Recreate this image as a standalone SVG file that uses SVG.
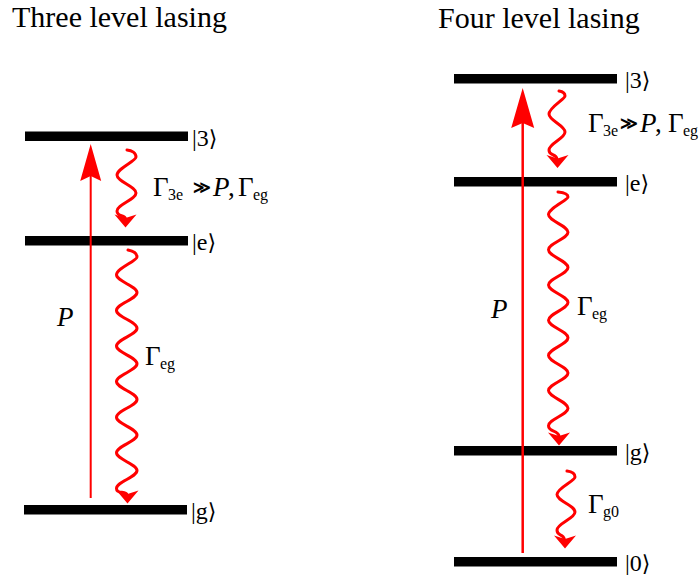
<svg xmlns="http://www.w3.org/2000/svg" xmlns:xlink="http://www.w3.org/1999/xlink" width="699" height="575" viewBox="0 0 699 575">
<style>
text { font-family: "Liberation Serif", "Times New Roman", serif; fill: #000; }
.title { font-size: 30px; }
.ket { font-size: 24px; font-family: "Liberation Serif", serif; }
.ang { font-family: "DejaVu Serif", serif; font-size: 22px; }
.big { font-size: 27px; }
.sub { font-size: 16px; }
.rel { font-size: 17px; font-weight: bold; font-family: "DejaVu Serif", serif; }
.it { font-style: italic; }
.bar { fill: #000; }
.wave { fill: none; stroke: #ff0000; stroke-width: 3; stroke-linecap: round; }
.pump { stroke: #ff0000; fill: none; }
.head { fill: #ff0000; }
</style>
<defs>
<path id="wh" d="M0,0 L-11,-13 L0,-9.5 L11,-13 Z"/>
<path id="ph" d="M0,0 L10.5,37 L0,32 L-10.5,37 Z"/>
<path id="ph2" d="M0,0 L11.5,40 L0,35 L-11.5,40 Z"/>
</defs>

<text class="title" x="12" y="27">Three level lasing</text>
<text class="title" x="438" y="28">Four level lasing</text>

<g id="L3-level3">
<rect class="bar" x="25" y="131.5" width="163" height="9.5"/>
<text x="192" y="145.5"><tspan class="ket">|3</tspan><tspan class="ang">⟩</tspan></text>
</g>
<g id="L3-levele">
<rect class="bar" x="25" y="236" width="163" height="9.5"/>
<text x="192" y="250"><tspan class="ket">|e</tspan><tspan class="ang">⟩</tspan></text>
</g>
<g id="L3-levelg">
<rect class="bar" x="24" y="505" width="163" height="9.5"/>
<text x="191" y="518.5"><tspan class="ket">|g</tspan><tspan class="ang">⟩</tspan></text>
</g>

<g id="L4-level3">
<rect class="bar" x="454" y="74" width="163" height="9.5"/>
<text x="625" y="88"><tspan class="ket">|3</tspan><tspan class="ang">⟩</tspan></text>
</g>
<g id="L4-levele">
<rect class="bar" x="454" y="177" width="163" height="9.5"/>
<text x="625" y="191"><tspan class="ket">|e</tspan><tspan class="ang">⟩</tspan></text>
</g>
<g id="L4-levelg">
<rect class="bar" x="454" y="446" width="163" height="9.5"/>
<text x="625" y="460"><tspan class="ket">|g</tspan><tspan class="ang">⟩</tspan></text>
</g>
<g id="L4-level0">
<rect class="bar" x="454" y="557" width="163" height="9.5"/>
<text x="625" y="570.5"><tspan class="ket">|0</tspan><tspan class="ang">⟩</tspan></text>
</g>

<g id="connectors">
<!-- three level pump -->
<line class="pump" x1="90.7" y1="498" x2="90.7" y2="172" stroke-width="2"/>
<use href="#ph" xlink:href="#ph" x="90.7" y="144" class="head"/>
<!-- three level 3->e -->
<path class="wave" d="M127,150 C132,150.5 136,153 136,157 S117,168.5 117,175 S136,186.5 136,193 S117,204.5 117,211 S125,214 125.5,219"/>
<use href="#wh" xlink:href="#wh" x="125.5" y="227.5" class="head"/>
<!-- three level e->g -->
<path class="wave" d="M128,250 C133,251 137,253 137,257 S116.5,268.3 116.5,274.8 S137,286.1 137,292.6 S116.5,303.9 116.5,310.4 S137,321.7 137,328.2 S116.5,339.5 116.5,346 S137,357.3 137,363.8 S116.5,375.1 116.5,381.6 S137,392.9 137,399.4 S116.5,410.7 116.5,417.2 S137,428.5 137,435 S116.5,446.3 116.5,452.8 S137,464.1 137,470.6 S116.5,481.9 116.5,488.4 S126,490 127,495"/>
<use href="#wh" xlink:href="#wh" x="127.5" y="503.5" class="head"/>

<!-- four level pump -->
<line class="pump" x1="522.7" y1="553" x2="522.7" y2="120" stroke-width="2.5"/>
<use href="#ph2" xlink:href="#ph2" x="522.7" y="88" class="head"/>
<!-- four level 3->e -->
<path class="wave" d="M559,91 C562,91.5 565,93 565,96 S549,107.5 549,114 S565,125.5 565,132 S549,143.5 549,150 S556,153 557,159"/>
<use href="#wh" xlink:href="#wh" x="557.5" y="168" class="head"/>
<!-- four level e->g -->
<path class="wave" d="M558,192 C563,192.5 568,194 568,197 S548.5,208.2 548.5,214.6 S568,225.8 568,232.2 S548.5,243.4 548.5,249.8 S568,261 568,267.4 S548.5,278.6 548.5,285 S568,296.2 568,302.6 S548.5,313.8 548.5,320.2 S568,331.4 568,337.8 S548.5,349 548.5,355.4 S568,366.6 568,373 S548.5,384.2 548.5,390.6 S568,401.8 568,408.2 S548.5,419.4 548.5,425.8 S558,430 559,436"/>
<use href="#wh" xlink:href="#wh" x="559" y="445.5" class="head"/>
<!-- four level g->0 -->
<path class="wave" d="M567,471 C571,471.5 575,473 575,477 S557,488 557,494.5 S575,505.5 575,512 S557,523.5 557,530 S563,533 564.5,539.5"/>
<use href="#wh" xlink:href="#wh" x="565" y="548.5" class="head"/>
</g>

<g id="rate-labels">
<text x="153" y="196"><tspan class="big">Γ</tspan><tspan class="sub" x="168" y="200">3e</tspan><tspan class="rel" x="193" y="193">≫</tspan><tspan class="big it" x="213" y="196">P</tspan><tspan class="big" x="228" y="196">,</tspan><tspan class="big" x="238" y="196">Γ</tspan><tspan class="sub" x="253" y="200">eg</tspan></text>
<text class="big it" x="57" y="326" font-size="29">P</text>
<text x="145" y="365"><tspan class="big">Γ</tspan><tspan class="sub" x="160" y="369">eg</tspan></text>

<text x="588" y="132"><tspan class="big">Γ</tspan><tspan class="sub" x="603" y="136">3e</tspan><tspan class="rel" x="620" y="129">≫</tspan><tspan class="big it" x="640" y="132">P</tspan><tspan class="big" x="655" y="132">,</tspan><tspan class="big" x="668" y="132">Γ</tspan><tspan class="sub" x="683" y="136" font-size="15">eg</tspan></text>
<text class="big it" x="491" y="318" font-size="29">P</text>
<text x="577" y="315"><tspan class="big">Γ</tspan><tspan class="sub" x="592" y="319">eg</tspan></text>
<text x="588" y="513"><tspan class="big">Γ</tspan><tspan class="sub" x="603" y="517">g0</tspan></text>
</g>
</svg>
